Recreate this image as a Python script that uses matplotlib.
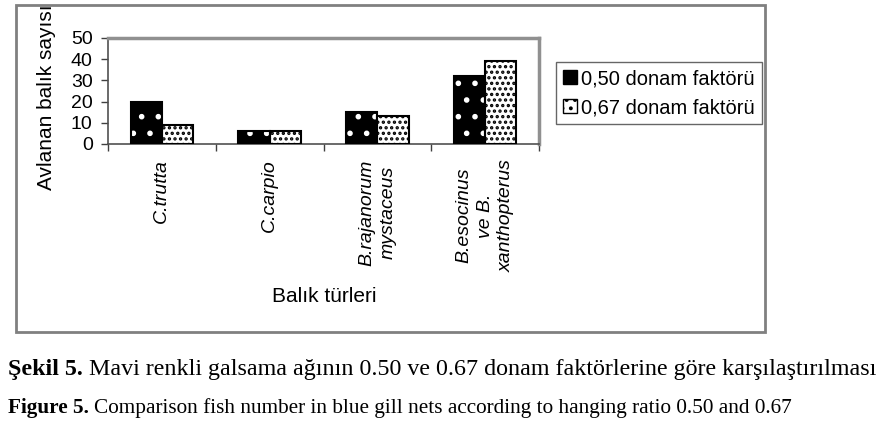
import numpy as np
import matplotlib
matplotlib.use("Agg")
from matplotlib import pyplot as plt
from matplotlib.patches import Patch, Rectangle

species = ["C.trutta", "C.carpio", "B.rajanorum\nmystaceus", "B.esocinus\nve B.\nxanthopterus"]
factor_050 = [20, 6, 15, 32]
factor_067 = [9, 6, 13, 39]
series_names = ["0,50 donam faktörü", "0,67 donam faktörü"]
y_ticks = [0, 10, 20, 30, 40, 50]

W, H = 876, 430
plt.rcParams['font.family'] = ['Liberation Sans', 'DejaVu Sans']
plt.rcParams['hatch.linewidth'] = 1.6

fig = plt.figure(figsize=(W / 100, H / 100), dpi=100)


def fx(px):
    return px / W


def fy(py):
    return 1 - py / H


# outer frame of the chart
fig.patches.append(Rectangle((fx(16), fy(332)), fx(765) - fx(16), fy(5) - fy(332),
                             transform=fig.transFigure, fill=False,
                             edgecolor='#808080', linewidth=2, zorder=0))

ax = fig.add_axes([fx(108), fy(144), fx(539) - fx(108), fy(38) - fy(144)])
x = np.arange(len(species))
w = 0.29

# black bars with white speckles
ax.bar(x - w / 2, factor_050, w, color='black', edgecolor='white', hatch='.', linewidth=0, zorder=2)
ax.bar(x - w / 2, factor_050, w, fill=False, edgecolor='black', linewidth=1.5, zorder=3)
# white bars with black dots
ax.bar(x + w / 2, factor_067, w, color='white', edgecolor='black', hatch='...', linewidth=0, zorder=2)
ax.bar(x + w / 2, factor_067, w, fill=False, edgecolor='black', linewidth=1.5, zorder=3)

ax.set_xlim(-0.5, len(species) - 0.5)
ax.set_ylim(0, 50)
ax.set_yticks(y_ticks)
ax.tick_params(axis='y', labelsize=14, length=5, width=1, color='#404040', pad=6)

ax.set_xticks(x)
ax.set_xticklabels(species, rotation=90, style='italic', fontsize=14,
                   ha='center', va='top', multialignment='center', linespacing=1.3)
ax.tick_params(axis='x', which='major', length=0, pad=11)
ax.set_xticks(np.arange(len(species) + 1) - 0.5, minor=True)
ax.tick_params(axis='x', which='minor', length=5, width=1, color='#404040')

for side in ['top', 'right']:
    ax.spines[side].set_color('#909090')
    ax.spines[side].set_linewidth(2.5)
for side in ['left', 'bottom']:
    ax.spines[side].set_color('#505050')
    ax.spines[side].set_linewidth(1.2)

handles = [Patch(facecolor='black', edgecolor='black', label=series_names[0]),
           Patch(facecolor='white', edgecolor='black', hatch='..', label=series_names[1])]
fig.legend(handles=handles, loc='upper left', bbox_to_anchor=(fx(556), fy(62)),
           fontsize=14.5, frameon=True, fancybox=False, edgecolor='#404040',
           handlelength=0.7, handleheight=0.7, handletextpad=0.2,
           borderpad=0.35, labelspacing=0.5, borderaxespad=0)

fig.text(fx(47), fy(190), "Avlanan balık sayısı", rotation=90, ha='center', va='bottom', fontsize=15)
fig.text(fx(324), fy(296), "Balık türleri", ha='center', va='center', fontsize=15)

# caption: bold prefix followed by plain text
fig.canvas.draw()
r = fig.canvas.get_renderer()
captions = [("Şekil 5. ", "Mavi renkli galsama ağının 0.50 ve 0.67 donam faktörlerine göre karşılaştırılması", 370, 17.3),
            ("Figure 5. ", "Comparison fish number in blue gill nets according to hanging ratio 0.50 and 0.67", 408, 15.3)]
for bold_part, plain_part, ypos, size in captions:
    t = fig.text(fx(8), fy(ypos), bold_part, ha='left', va='center', fontsize=size,
                 family='Liberation Serif', weight='bold')
    bb = t.get_window_extent(r)
    fig.text(bb.x1 / W, fy(ypos), plain_part, ha='left', va='center', fontsize=size,
             family='Liberation Serif')

fig.savefig("out.png", dpi=100)
